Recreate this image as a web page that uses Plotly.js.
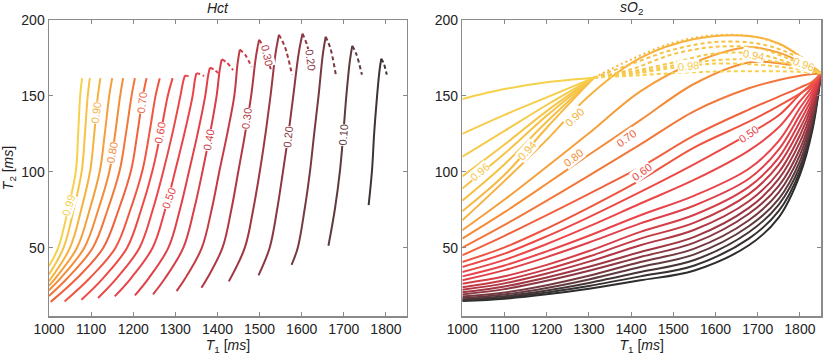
<!DOCTYPE html>
<html><head><meta charset="utf-8">
<script src="https://cdn.plot.ly/plotly-3.0.1.min.js"></script>
<style>html,body{margin:0;padding:0;background:#fff}#chart{width:823px;height:355px}</style>
</head><body><div id="chart"></div>
<script>
// ================= Hct panel (T1 [ms], T2 [ms]) =================
const hctLevels = [0.99,0.95,0.90,0.85,0.80,0.75,0.70,0.65,0.60,0.55,0.50,0.45,0.40,0.35,0.30,0.25,0.20,0.15,0.10,0.05];
const hctSolidT1 = [
  [1000,1022,1045,1064,1069.2,1074,1078.5],
  [1000,1034.7,1058.5,1078,1085.3,1092,1097],
  [1000,1050,1076.4,1098,1107.4,1116,1122],
  [1000,1015.5,1066.6,1096.5,1121,1132.4,1143,1150],
  [1000,1027.6,1084,1117,1144,1157,1169,1176],
  [1000,1044,1104,1139.2,1168,1182.6,1196,1204],
  [1004,1066.8,1129,1165.3,1195,1209.6,1223,1231.6],
  [1037,1097,1158,1193.2,1222,1238.1,1253,1263],
  [1077,1128.7,1185.5,1218.8,1246,1264.7,1282,1293.5],
  [1116.5,1161,1215,1246.4,1272,1292.8,1312,1318.6,1323],
  [1156,1195,1246,1275.7,1300,1321.3,1341,1346.4,1350],
  [1204,1237,1283.5,1310.7,1333,1352.8,1371,1377.6,1382],
  [1247,1276,1319,1344.3,1365,1382.2,1398,1405.2,1410],
  [1303,1324,1363,1386.1,1405,1423.2,1440,1447.8,1453],
  [1362,1376,1412,1432.9,1450,1465.6,1480,1491.4,1499],
  [1427,1465,1484.8,1501,1514,1526,1538,1546],
  [1497.5,1524,1541.6,1556,1568.5,1580,1593.2,1602],
  [1576,1590.7,1606.8,1620,1629.6,1640,1650.2,1657],
  [1663.5,1678.6,1691,1698.8,1706,1714.4,1720],
  [1759,1767,1772,1779,1785,1789]
];
const hctSolidT2 = [
  [38,50,75,101,125,150,161.7],
  [32.4,50,75,101,125,150,161.7],
  [28,50,75,101,125,150,161.7],
  [25,30,50,75,101,125,150,161.7],
  [22,30,50,75,101,125,150,161.7],
  [18.2,30,50,75,101,125,150,161.7],
  [14.3,30,50,75,101,125,150,161.7],
  [14.6,30,50,75,101,125,150,161.7],
  [15.7,30,50,75,101,125,150,161.7],
  [16.9,30,50,75,101,125,150,159.5,163.5],
  [17.9,30,50,75,101,125,150,160.5,165],
  [18.6,30,50,75,101,125,150,163,168.5],
  [19.2,30,50,75,101,125,150,166.8,174],
  [21.4,30,50,75,101,125,150,171.4,180.5],
  [23.6,30,50,75,101,125,150,175.9,187],
  [27.8,50,75,101,125,150,178.2,190.3],
  [31.8,50,75,101,125,150,178.7,191],
  [38.7,50,75,101,125,150,177.3,189],
  [51.3,75,101,125,150,173.1,183],
  [78,101,125,150,167.2,174.5]
];
// dashed descending parts (levels 0.55 ... 0.05)
const hctDashLevels = [0.55,0.50,0.45,0.40,0.35,0.30,0.25,0.20,0.15,0.10,0.05];
const hctDashT1 = [
  [1323,1330,1338],[1350,1358,1368],[1382,1391,1402],[1410,1422,1437],
  [1453,1466,1481],[1499,1512,1528],[1546,1560,1577],[1602,1613,1627],
  [1657,1668,1681],[1720,1730,1743],[1789,1795,1802]
];
const hctDashT2 = [
  [163.5,163,162],[165,164.4,163],[168.5,167.5,165],[174,172,167],
  [180.5,177,169],[187,180.7,166],[190.3,182.4,164],[191,183.2,165],
  [189,181.5,164],[183,177.3,164],[174.5,171.3,164]
];
const hctLabelText = ['0.99','0.90','0.80','0.70','0.60','0.50','0.40','0.30','0.20','0.10','0.30','0.20'];
const hctLabelValue = [0.99,0.90,0.80,0.70,0.60,0.50,0.40,0.30,0.20,0.10,0.30,0.20];
const hctLabelT1 = [1047,1112,1150,1221,1264,1283,1379,1470,1567,1699,1518,1620];
const hctLabelT2 = [78,138.7,112.3,145.2,125.4,82.4,121,135.3,123.1,124.2,177,174];

// ================= sO2 panel =================
// lines reaching the plasma point on the right edge
const so2DiagLevels = [0,0.03,0.06,0.10,0.15,0.20,0.25,0.30,0.35,0.40,0.45,0.50,0.55,0.60,0.65,0.70,0.75,0.80,0.85,0.90];
const so2DiagT1 = [1000,1100,1200,1300,1422,1550,1679,1750,1800,1830,1850];
const so2DiagT2 = [
  [14.8,16.4,19.3,23.0,28.5,35.0,51.6,70,98,128,165],
  [15.3,17.1,20.5,24.8,31.1,38.3,56,74.2,100.5,130.2,165],
  [15.9,18.0,21.8,26.8,34,41.9,60.2,78.4,103.5,132.4,165],
  [16.8,19.2,23.5,29.1,37.3,45.6,64.1,82.1,107,134.3,165],
  [17.9,20.5,25.3,31.5,40.6,49.4,68.1,86.5,111,136.9,165],
  [19.2,22.7,28.2,34.8,43.9,53.3,72.4,90.7,115,139,165],
  [20.7,24.5,30.4,37.4,47.2,57.1,76.2,95.3,119.5,141.8,165],
  [22.3,26.5,33.0,40.8,51.6,61.8,80.6,99.7,124,144.5,165],
  [24,28.6,35.7,44.2,56,66.5,85.3,104.7,128.5,146.8,165],
  [26.3,31.2,38.7,47.8,60.4,71.7,90.1,109.4,133,149.3,165],
  [28.5,35.2,43.8,53.4,66,77.8,95.4,114.8,137.5,151.8,165],
  [31.1,38.3,47.6,57.9,71.4,84.3,102,120.4,142,154,165],
  [34,42.0,52.4,64.0,79.1,94.8,114,129.3,146.5,156.3,165],
  [37.3,46.1,57.5,70.2,86.8,105.1,125,137.2,151,158.6,165],
  [40.6,50.2,62.6,76.4,94.5,116.1,133,143.5,151.5,157.5,165],
  [45,57.8,71.5,85.5,103,124,141,149.5,155.5,159.5,165],
  [50,65.0,81.0,97.5,118,140,155,160.5,163.3,164.5,165],
  [56,73.4,92.1,111.2,134,158,172,171.5,169,166.8,165],
  [61.5,81.7,103.3,125.4,153,172,182,178.5,172.5,168.1,165],
  [68,94,121,150,175,187.5,189.5,184.5,176,169.4,165]
];
// high-sO2 lines converging to the upper-left point
const so2FanLevels = [0.92,0.94,0.95,0.96,0.97,0.98,0.99];
const so2FanT1 = [1000,1100,1200,1312];
const so2FanT2 = [
  [74,98,129,162],[81,105,133,162],[89,112,137,162],[97,118,140,162],
  [110,127,144,162],[125,137.5,149,162],[148,154.5,159,162]
];
// dashed continuation arcs of the same lines
const so2ArcT1 = [1312,1400,1500,1600,1700,1780,1850];
const so2ArcT2 = [
  [162,174,185,190,188.5,180,165],
  [162,171,180.5,185.5,184.5,177.5,165],
  [162,167.5,177.5,182.3,181.5,173.7,165],
  [162,166,172,178,177.5,171.5,165],
  [162,165,170,173.5,174,170.5,165],
  [162,164.3,168.5,171.3,170.5,168.2,165],
  [162,163.3,165,166,166.3,166,165]
];
const so2LabelText = ['0.96','0.94','0.90','0.80','0.70','0.60','0.50','0.98','0.94','0.96'];
const so2LabelValue = [0.96,0.94,0.90,0.80,0.70,0.60,0.50,0.98,0.94,0.96];
const so2LabelT1 = [1041,1152,1267,1263,1390,1425,1679,1537,1691,1808];
const so2LabelT2 = [100,114,136,109,122,100,125,169.4,177,171];

// ================= styling =================
const hctLabelAngle = [-72,-83,-80,-83,-80,-70,-80,-83,-84,-86,78,82];
const so2LabelAngle = [-40,-48,-44,-38,-36,-36,-35,-5,10,20];
const colorStops = [[0,[45,45,45]],[0.05,[62,52,52]],[0.1,[95,58,62]],[0.2,[140,55,66]],[0.3,[178,55,68]],[0.4,[214,62,72]],[0.5,[233,68,74]],[0.6,[237,74,70]],[0.7,[240,98,62]],[0.8,[244,140,56]],[0.9,[246,178,62]],[1,[246,212,78]]];
function colorFor(v){
  for(let k=1;k<colorStops.length;k++){
    if(v<=colorStops[k][0]){
      const a=colorStops[k-1][0], ca=colorStops[k-1][1], b=colorStops[k][0], cb=colorStops[k][1];
      const t=(v-a)/(b-a);
      return 'rgb('+ca.map((c,j)=>Math.round(c+(cb[j]-c)*t)).join(',')+')';
    }
  }
  return 'rgb(246,212,78)';
}
const LW = 2;
const traces = [];
function addLine(x,y,lv,ax,dash){
  traces.push({type:'scatter',mode:'lines',x:x,y:y,xaxis:ax[0],yaxis:ax[1],
    line:{color:colorFor(lv),width:LW,shape:'spline',smoothing:1,dash:dash||'solid'},
    hoverinfo:'skip',showlegend:false});
}
hctLevels.forEach((lv,i)=>addLine(hctSolidT1[i],hctSolidT2[i],lv,['x','y']));
hctDashLevels.forEach((lv,i)=>addLine(hctDashT1[i],hctDashT2[i],lv,['x','y'],'4px,3px'));
so2DiagLevels.forEach((lv,i)=>addLine(so2DiagT1,so2DiagT2[i],lv,['x2','y2']));
so2FanLevels.forEach((lv,i)=>addLine(so2FanT1,so2FanT2[i],lv,['x2','y2']));
so2FanLevels.forEach((lv,i)=>addLine(so2ArcT1,so2ArcT2[i],lv,['x2','y2'],i===0?'2px,3px':'4px,3px'));

const FONT = 'Liberation Sans, Arial, Helvetica, sans-serif';
const annotations = [];
function addLabel(t,x,y,v,ang,ax){
  annotations.push({text:t,x:x,y:y,xref:ax[0],yref:ax[1],showarrow:false,textangle:ang,
    font:{family:FONT,size:11,color:colorFor(v)},bgcolor:'#ffffff',borderpad:0});
}
hctLabelText.forEach((t,i)=>addLabel(t,hctLabelT1[i],hctLabelT2[i],hctLabelValue[i],hctLabelAngle[i],['x','y']));
so2LabelText.forEach((t,i)=>addLabel(t,so2LabelT1[i],so2LabelT2[i],so2LabelValue[i],so2LabelAngle[i],['x2','y2']));
annotations.push({text:'<i>Hct</i>',xref:'paper',yref:'paper',x:0.219,y:1.04,xanchor:'center',yanchor:'middle',showarrow:false,font:{family:FONT,size:14,color:'#222'}});
annotations.push({text:'<i>sO</i><sub>2</sub>',xref:'paper',yref:'paper',x:0.754,y:1.04,xanchor:'center',yanchor:'middle',showarrow:false,font:{family:FONT,size:14,color:'#222'}});

const xTicks = [1000,1100,1200,1300,1400,1500,1600,1700,1800];
const yTicks = [50,100,150,200];
function xa(domain,anchor){
  return {domain:domain,anchor:anchor,range:[1000,1850],tickvals:xTicks,ticktext:xTicks.map(String),
    ticks:'inside',ticklen:4,tickcolor:'#888',showline:true,linecolor:'#8a8a8a',linewidth:1.5,mirror:'ticks',
    showgrid:false,zeroline:false,tickfont:{family:FONT,size:14,color:'#222'},
    title:{text:'<i>T</i><sub>1</sub> [<i>ms</i>]',font:{family:FONT,size:14,color:'#222'},standoff:6}};
}
function ya(anchor,withTitle){
  const o = {domain:[0,1],anchor:anchor,range:[5,200],tickvals:yTicks,ticktext:yTicks.map(String),
    ticks:'inside',ticklen:4,tickcolor:'#888',showline:true,linecolor:'#8a8a8a',linewidth:1.5,mirror:'ticks',
    showgrid:false,zeroline:false,tickfont:{family:FONT,size:14,color:'#222'}};
  if(withTitle) o.title = {text:'<i>T</i><sub>2</sub> [<i>ms</i>]',font:{family:FONT,size:14,color:'#222'},standoff:8};
  return o;
}
const layout = {
  width:823,height:355,margin:{l:49,r:2,t:20,b:39},
  paper_bgcolor:'#ffffff',plot_bgcolor:'#ffffff',showlegend:false,
  font:{family:FONT,size:14,color:'#222'},
  xaxis:xa([0,0.4637],'y'), yaxis:ya('x',true),
  xaxis2:xa([0.5354,1],'y2'), yaxis2:ya('x2',false),
  annotations:annotations
};
Plotly.newPlot('chart',traces,layout,{staticPlot:true,displayModeBar:false});
</script>
</body></html>
